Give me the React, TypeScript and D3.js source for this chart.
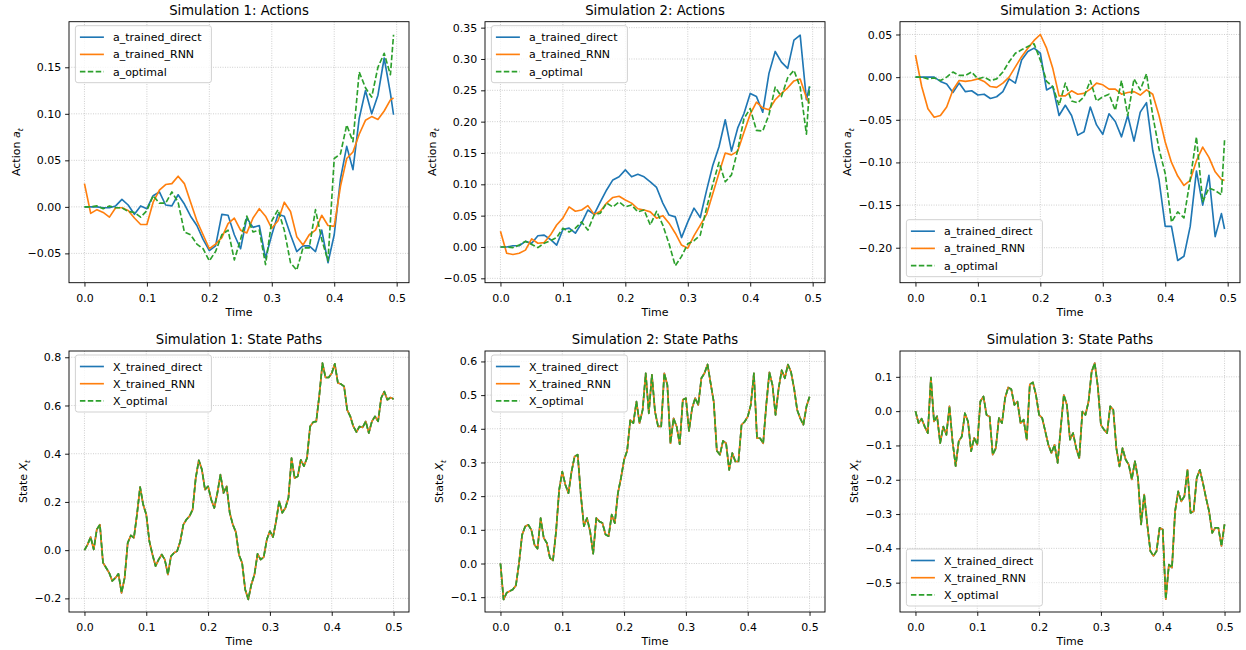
import React, { useEffect, useRef } from 'react';
import * as d3 from 'd3';

// time grids
const tAction = [...d3.range(0, 0.495, 0.01), 0.495];
const tState = d3.range(0, 0.5001, 0.005);

// Simulation 1: actions
const a1Direct = [
  0, 0, 0, -0.001, -0.001, 0.001, 0.008, 0.002, -0.008, 0.001,
  -0.002, 0.012, 0.016, 0.002, 0.001, 0.013, 0.003, -0.010, -0.020, -0.035,
  -0.047, -0.042, -0.008, -0.009, -0.030, -0.045, -0.012, -0.022, -0.020, -0.055,
  -0.030, -0.008, -0.010, -0.030, -0.048, -0.042, -0.042, -0.048, -0.025, -0.060,
  -0.030, 0.030, 0.065, 0.040, 0.095, 0.125, 0.100, 0.120, 0.160, 0.122,
  0.099,
];
const a1RNN = [
  0.025, -0.007, -0.003, -0.006, -0.011, -0.001, -0.001, -0.004, -0.012, -0.019,
  -0.019, 0.005, 0.018, 0.024, 0.025, 0.033, 0.025, 0.005, -0.015, -0.030,
  -0.045, -0.040, -0.033, -0.018, -0.012, -0.025, -0.028, -0.012, -0.002, -0.010,
  -0.023, -0.015, 0.005, -0.005, -0.032, -0.041, -0.030, -0.025, -0.009, -0.020,
  -0.021, 0.022, 0.052, 0.059, 0.078, 0.093, 0.097, 0.094, 0.103, 0.115,
  0.117,
];
const a1Opt = [
  0, 0, 0.001, -0.002, 0.001, -0.001, -0.001, -0.005, -0.006, -0.011,
  -0.004, 0.012, 0.004, 0.004, 0.016, 0.005, -0.027, -0.030, -0.040, -0.045,
  -0.058, -0.048, -0.030, -0.025, -0.057, -0.035, -0.010, -0.027, -0.025, -0.062,
  -0.015, -0.003, -0.025, -0.060, -0.068, -0.044, -0.044, -0.003, -0.035, -0.058,
  0.052, 0.057, 0.088, 0.070, 0.145, 0.128, 0.118, 0.150, 0.165, 0.142,
  0.185,
];

// Simulation 2: actions
const a2Direct = [
  0, 0, 0.002, 0.002, 0.009, 0.006, 0.018, 0.019, 0.012, 0.003,
  0.028, 0.030, 0.022, 0.038, 0.059, 0.052, 0.072, 0.091, 0.107, 0.112,
  0.123, 0.112, 0.116, 0.112, 0.104, 0.095, 0.070, 0.051, 0.048, 0.015,
  0.040, 0.062, 0.047, 0.090, 0.130, 0.160, 0.203, 0.153, 0.190, 0.213,
  0.245, 0.240, 0.215, 0.277, 0.312, 0.295, 0.285, 0.330, 0.338, 0.235,
  0.256,
];
const a2RNN = [
  0.025, -0.010, -0.012, -0.010, -0.005, 0.013, 0.006, 0.007, 0.019, 0.035,
  0.046, 0.064, 0.057, 0.059, 0.066, 0.052, 0.057, 0.070, 0.079, 0.081,
  0.075, 0.070, 0.061, 0.059, 0.056, 0.046, 0.050, 0.038, 0.022, 0.003,
  -0.002, 0.018, 0.035, 0.052, 0.085, 0.118, 0.150, 0.147, 0.153, 0.183,
  0.212, 0.231, 0.222, 0.219, 0.235, 0.245, 0.254, 0.265, 0.268, 0.238,
  0.229,
];
const a2Opt = [
  0, 0, -0.001, 0.003, 0.009, 0.004, -0.001, 0.006, 0.010, 0.015,
  0.030, 0.024, 0.030, 0.040, 0.027, 0.051, 0.054, 0.070, 0.064, 0.072,
  0.064, 0.067, 0.056, 0.059, 0.035, 0.057, 0.035, 0.005, -0.030, -0.015,
  0.005, 0.010, 0.019, 0.062, 0.100, 0.135, 0.104, 0.115, 0.155, 0.205,
  0.221, 0.186, 0.185, 0.211, 0.255, 0.240, 0.270, 0.282, 0.255, 0.180,
  0.256,
];

// Simulation 3: actions
const a3Direct = [
  0, 0, 0, 0, -0.005, -0.008, -0.018, -0.007, -0.017, -0.016,
  -0.021, -0.020, -0.025, -0.023, -0.017, -0.002, -0.007, 0.020, 0.030, 0.034,
  0.028, -0.015, -0.011, -0.045, -0.033, -0.045, -0.068, -0.064, -0.035, -0.056,
  -0.067, -0.043, -0.052, -0.070, -0.045, -0.075, -0.041, -0.030, -0.086, -0.120,
  -0.175, -0.175, -0.215, -0.210, -0.175, -0.110, -0.150, -0.115, -0.187, -0.160,
  -0.178,
];
const a3RNN = [
  0.026, -0.011, -0.037, -0.047, -0.045, -0.035, -0.015, -0.004, -0.005, -0.004,
  -0.002, -0.005, -0.011, -0.012, -0.007, 0.000, 0.012, 0.024, 0.034, 0.043,
  0.050, 0.034, 0.010, -0.022, -0.022, -0.016, -0.020, -0.019, -0.014, -0.007,
  -0.009, -0.014, -0.014, -0.020, -0.018, -0.017, -0.021, -0.015, -0.020, -0.045,
  -0.076, -0.100, -0.116, -0.127, -0.121, -0.098, -0.082, -0.094, -0.111, -0.120,
  -0.121,
];
const a3Opt = [
  0, 0, -0.002, -0.001, -0.004, 0.000, 0.006, 0.002, 0.002, 0.006,
  -0.002, 0.000, -0.004, -0.002, 0.006, 0.018, 0.028, 0.032, 0.036, 0.039,
  0.020, -0.005, -0.011, -0.033, -0.007, -0.028, -0.030, -0.023, -0.004, -0.028,
  -0.023, -0.020, -0.039, -0.004, -0.045, -0.002, -0.015, 0.004, -0.045, -0.084,
  -0.113, -0.170, -0.158, -0.165, -0.120, -0.070, -0.146, -0.130, -0.133, -0.138,
  -0.074,
];

// State paths (the three lines lie on top of each other)
const X1 = [
  0.000, 0.023, 0.054, 0.003, 0.086, 0.106, -0.052, -0.073, -0.094, -0.128,
  -0.115, -0.098, -0.177, -0.115, 0.030, 0.061, 0.051, 0.148, 0.262, 0.189,
  0.148, 0.037, -0.018, -0.066, -0.039, -0.018, -0.039, -0.101, -0.025, -0.011,
  -0.004, 0.037, 0.106, 0.127, 0.141, 0.168, 0.299, 0.373, 0.334, 0.251,
  0.265, 0.210, 0.175, 0.237, 0.313, 0.237, 0.265, 0.155, 0.106, 0.075,
  -0.020, -0.052, -0.163, -0.204, -0.142, -0.101, -0.015, -0.039, -0.029, 0.044,
  0.079, 0.054, 0.120, 0.203, 0.155, 0.175, 0.217, 0.382, 0.299, 0.306,
  0.375, 0.348, 0.382, 0.513, 0.531, 0.534, 0.644, 0.776, 0.716, 0.716,
  0.734, 0.773, 0.693, 0.689, 0.679, 0.582, 0.555, 0.513, 0.490, 0.513,
  0.509, 0.534, 0.486, 0.534, 0.555, 0.534, 0.631, 0.658, 0.624, 0.633,
  0.627,
];
const X2 = [
  0.000, -0.107, -0.087, -0.082, -0.077, -0.065, 0.000, 0.085, 0.110, 0.115,
  0.100, 0.056, 0.044, 0.135, 0.076, 0.061, 0.017, 0.009, 0.096, 0.219,
  0.273, 0.234, 0.209, 0.273, 0.318, 0.323, 0.204, 0.111, 0.135, 0.096,
  0.029, 0.135, 0.125, 0.120, 0.086, 0.081, 0.145, 0.120, 0.209, 0.254,
  0.308, 0.335, 0.426, 0.417, 0.481, 0.417, 0.456, 0.565, 0.446, 0.560,
  0.451, 0.407, 0.407, 0.565, 0.530, 0.357, 0.431, 0.407, 0.354, 0.486,
  0.491, 0.394, 0.461, 0.491, 0.471, 0.550, 0.565, 0.591, 0.535, 0.481,
  0.335, 0.323, 0.364, 0.357, 0.278, 0.328, 0.303, 0.303, 0.412, 0.421,
  0.436, 0.471, 0.565, 0.372, 0.372, 0.357, 0.471, 0.568, 0.530, 0.441,
  0.520, 0.574, 0.550, 0.591, 0.569, 0.520, 0.456, 0.431, 0.412, 0.466,
  0.495,
];
const X3 = [
  0.000, -0.035, -0.022, -0.045, -0.064, 0.098, -0.030, -0.015, -0.093, -0.045,
  -0.069, 0.014, -0.088, -0.160, -0.088, -0.074, -0.006, -0.030, -0.117, -0.078,
  -0.098, 0.028, 0.043, -0.011, -0.016, -0.127, -0.108, -0.020, -0.035, 0.038,
  0.069, 0.064, 0.018, 0.028, -0.035, -0.025, -0.083, 0.078, 0.084, 0.047,
  -0.011, -0.020, -0.059, -0.098, -0.122, -0.098, -0.151, -0.049, 0.047, 0.018,
  -0.083, -0.064, -0.108, -0.137, -0.001, -0.011, 0.028, 0.115, 0.140, 0.072,
  -0.040, -0.054, -0.064, 0.014, 0.004, -0.108, -0.161, -0.108, -0.141, -0.156,
  -0.199, -0.146, -0.195, -0.330, -0.243, -0.330, -0.408, -0.422, -0.408, -0.340,
  -0.345, -0.548, -0.447, -0.456, -0.292, -0.234, -0.263, -0.248, -0.171, -0.297,
  -0.292, -0.195, -0.171, -0.209, -0.253, -0.292, -0.355, -0.340, -0.340, -0.393,
  -0.330,
];

const actionNames = ['a_trained_direct', 'a_trained_RNN', 'a_optimal'];
const stateNames = ['X_trained_direct', 'X_trained_RNN', 'X_optimal'];

const xTicks = [0, 0.1, 0.2, 0.3, 0.4, 0.5];
const xLimAction = [-0.02475, 0.51975];
const xLimState = [-0.025, 0.525];

const yTicksA1 = [-0.05, 0, 0.05, 0.1, 0.15];
const yTicksA2 = [-0.05, 0, 0.05, 0.1, 0.15, 0.2, 0.25, 0.3, 0.35];
const yTicksA3 = [-0.2, -0.15, -0.1, -0.05, 0, 0.05];
const yTicksX1 = [-0.2, 0, 0.2, 0.4, 0.6, 0.8];
const yTicksX2 = [-0.1, 0, 0.1, 0.2, 0.3, 0.4, 0.5, 0.6];
const yTicksX3 = [-0.5, -0.4, -0.3, -0.2, -0.1, 0, 0.1];

const yLimA1 = [-0.0815, 0.199];
const yLimA2 = [-0.057, 0.3595];
const yLimA3 = [-0.241, 0.065];
const yLimX1 = [-0.2565, 0.826];
const yLimX2 = [-0.144, 0.631];
const yLimX3 = [-0.5855, 0.1753];

const colors = ['#1f77b4', '#ff7f0e', '#2ca02c'];
const dashes = [null, null, '5.5,2.4'];

const W = 1246;
const H = 650;
const colLeft = [69, 485, 900];
const rowTop = [21.7, 351];
const axW = 340;
const axH = 261;
const font = "'DejaVu Sans', sans-serif";

interface Panel {
  row: number;
  col: number;
  title: string;
  kind: 'action' | 'state';
  t: number[];
  series: number[][];
  yLim: number[];
  yTicks: number[];
  fmt: string;
  legend: 'upper' | 'lower';
}

const panels: Panel[] = [
  { row: 0, col: 0, title: 'Simulation 1: Actions', kind: 'action', t: tAction, series: [a1Direct, a1RNN, a1Opt], yLim: yLimA1, yTicks: yTicksA1, fmt: '.2f', legend: 'upper' },
  { row: 0, col: 1, title: 'Simulation 2: Actions', kind: 'action', t: tAction, series: [a2Direct, a2RNN, a2Opt], yLim: yLimA2, yTicks: yTicksA2, fmt: '.2f', legend: 'upper' },
  { row: 0, col: 2, title: 'Simulation 3: Actions', kind: 'action', t: tAction, series: [a3Direct, a3RNN, a3Opt], yLim: yLimA3, yTicks: yTicksA3, fmt: '.2f', legend: 'lower' },
  { row: 1, col: 0, title: 'Simulation 1: State Paths', kind: 'state', t: tState, series: [X1, X1, X1], yLim: yLimX1, yTicks: yTicksX1, fmt: '.1f', legend: 'upper' },
  { row: 1, col: 1, title: 'Simulation 2: State Paths', kind: 'state', t: tState, series: [X2, X2, X2], yLim: yLimX2, yTicks: yTicksX2, fmt: '.1f', legend: 'upper' },
  { row: 1, col: 2, title: 'Simulation 3: State Paths', kind: 'state', t: tState, series: [X3, X3, X3], yLim: yLimX3, yTicks: yTicksX3, fmt: '.1f', legend: 'lower' },
];

const App: React.FC = () => {
  const svgRef = useRef<SVGSVGElement>(null);

  useEffect(() => {
    if (!svgRef.current) return;
    const svg = d3.select(svgRef.current);
    svg.selectAll('*').remove();

    svg.append('rect').attr('width', W).attr('height', H).attr('fill', 'white');

    panels.forEach((p, i) => {
      const left = colLeft[p.col];
      const top = rowTop[p.row];
      const xScale = d3.scaleLinear()
        .domain(p.kind === 'action' ? xLimAction : xLimState)
        .range([0, axW]);
      const yScale = d3.scaleLinear().domain(p.yLim).range([axH, 0]);

      const g = svg.append('g').attr('transform', `translate(${left},${top})`);

      // grid
      g.selectAll('.gx').data(xTicks).enter().append('line')
        .attr('x1', d => xScale(d)).attr('x2', d => xScale(d))
        .attr('y1', 0).attr('y2', axH)
        .attr('stroke', '#b0b0b0').attr('stroke-opacity', 0.85)
        .attr('stroke-width', 0.8).attr('stroke-dasharray', '0.9,1.5');
      g.selectAll('.gy').data(p.yTicks).enter().append('line')
        .attr('x1', 0).attr('x2', axW)
        .attr('y1', d => yScale(d)).attr('y2', d => yScale(d))
        .attr('stroke', '#b0b0b0').attr('stroke-opacity', 0.85)
        .attr('stroke-width', 0.8).attr('stroke-dasharray', '0.9,1.5');

      // lines
      const clipId = `clip-${i}`;
      g.append('clipPath').attr('id', clipId)
        .append('rect').attr('width', axW).attr('height', axH);
      p.series.forEach((vals, k) => {
        const line = d3.line<number>()
          .x((_, j) => xScale(p.t[j]))
          .y(d => yScale(d));
        g.append('path')
          .datum(vals)
          .attr('clip-path', `url(#${clipId})`)
          .attr('fill', 'none')
          .attr('stroke', colors[k])
          .attr('stroke-width', 1.65)
          .attr('stroke-linejoin', 'round')
          .attr('stroke-dasharray', dashes[k])
          .attr('d', line);
      });

      // axes
      const xAxis = d3.axisBottom(xScale).tickValues(xTicks)
        .tickSize(3.9).tickPadding(7.2).tickFormat(d => d3.format('.1f')(d as number));
      const yAxis = d3.axisLeft(yScale).tickValues(p.yTicks)
        .tickSize(3.9).tickPadding(3.8).tickFormat(d => d3.format(p.fmt)(d as number));

      const gx = g.append('g').attr('transform', `translate(0,${axH})`).call(xAxis);
      const gy = g.append('g').call(yAxis);
      [gx, gy].forEach(a => {
        a.select('.domain').remove();
        a.attr('font-family', font).attr('font-size', 11);
        a.selectAll('line').attr('stroke', '#000').attr('stroke-width', 0.9);
        a.selectAll('text').attr('fill', '#000');
      });

      // frame
      g.append('rect').attr('width', axW).attr('height', axH)
        .attr('fill', 'none').attr('stroke', '#000').attr('stroke-width', 0.9);

      // title
      g.append('text')
        .attr('x', axW / 2).attr('y', -7)
        .attr('text-anchor', 'middle')
        .attr('font-family', font).attr('font-size', 13.2)
        .text(p.title);

      // x label
      g.append('text')
        .attr('x', axW / 2).attr('y', axH + 33)
        .attr('text-anchor', 'middle')
        .attr('font-family', font).attr('font-size', 11)
        .text('Time');

      // y label placed left of the widest tick label
      let maxW = 0;
      gy.selectAll<SVGTextElement, unknown>('text').each(function () {
        maxW = Math.max(maxW, this.getComputedTextLength());
      });
      const lx = -3.9 - 3.8 - maxW - 4.4 - 3;
      const lab = g.append('text')
        .attr('transform', `translate(${lx},${axH / 2}) rotate(-90)`)
        .attr('text-anchor', 'middle')
        .attr('font-family', font).attr('font-size', 11);
      lab.append('tspan').text(p.kind === 'action' ? 'Action ' : 'State ');
      lab.append('tspan').attr('font-style', 'italic').text(p.kind === 'action' ? 'a' : 'X');
      lab.append('tspan').attr('font-style', 'italic').attr('font-size', 7.7).attr('dy', 2.4).text('t');

      // legend
      const names = p.kind === 'action' ? actionNames : stateNames;
      const bw = 136;
      const bh = 57;
      const by = p.legend === 'upper' ? 4 : axH - 6 - bh;
      const lg = g.append('g').attr('transform', `translate(6.4,${by})`);
      lg.append('rect')
        .attr('width', bw).attr('height', bh).attr('rx', 2.5)
        .attr('fill', 'white').attr('fill-opacity', 0.8)
        .attr('stroke', '#cccccc').attr('stroke-width', 0.9);
      names.forEach((n, k) => {
        const cy = 11.5 + k * 17.2;
        lg.append('line')
          .attr('x1', 4.5).attr('x2', 28.5).attr('y1', cy).attr('y2', cy)
          .attr('stroke', colors[k]).attr('stroke-width', 1.65)
          .attr('stroke-dasharray', dashes[k]);
        lg.append('text')
          .attr('x', 37.5).attr('y', cy + 4)
          .attr('font-family', font).attr('font-size', 11)
          .text(n);
      });
    });
  }, []);

  return (
    <svg
      ref={svgRef}
      width={W}
      height={H}
      style={{ position: 'absolute', left: 0, top: 0 }}
    />
  );
};

export default App;
